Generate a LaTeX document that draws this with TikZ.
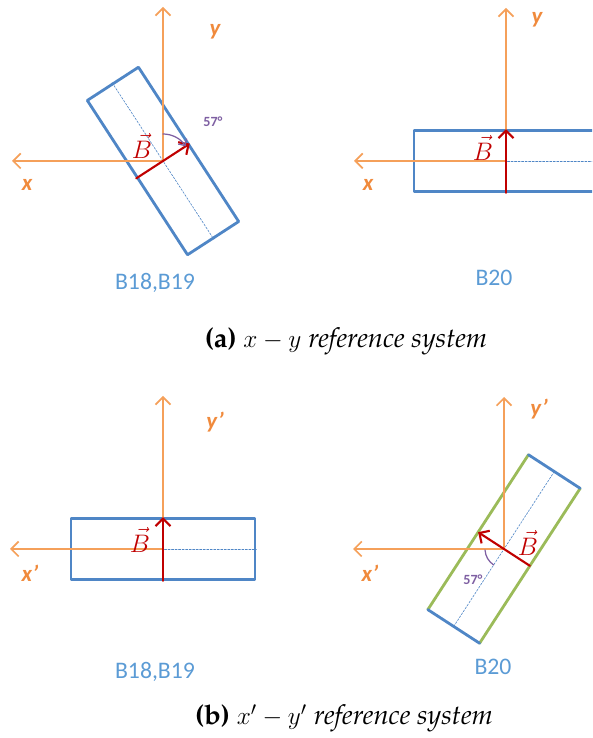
\documentclass[tikz,border=0pt]{standalone}
\usepackage{fontspec}
\newfontfamily\labelfont{Carlito}
\usetikzlibrary{arrows.meta,calc,positioning}
\definecolor{axisorange}{HTML}{F5A05A}
\definecolor{labelorange}{HTML}{F08A3C}
\definecolor{barblue}{HTML}{4F86C6}
\definecolor{nameblue}{HTML}{5B9BD5}
\definecolor{fieldred}{HTML}{C00000}
\definecolor{anglepurple}{HTML}{7E5FA2}
\definecolor{sidegreen}{HTML}{9BBB59}

\begin{document}
\begin{tikzpicture}[x=1cm,y=1cm,line cap=round,line join=round,
  >={Straight Barb[length=1.5mm,width=3mm]},
  axis/.style={axisorange,line width=1pt,->},
  axislabel/.style={text=labelorange,font=\labelfont\bfseries\itshape\fontsize{13}{15}\selectfont},
  barshape/.style={minimum width=3.68cm,minimum height=1.22cm,inner sep=0pt},
  bar/.style={barshape,draw=barblue,line width=1.6pt},
  barside/.style={line width=1.6pt},
  midline/.style={barblue,dash pattern=on 1.2pt off 0.8pt,line width=0.35pt},
  field/.style={fieldred,line width=1.2pt,->},
  fieldlabel/.style={text=fieldred,font=\fontsize{13.5}{15}\selectfont},
  anglearc/.style={anglepurple,line width=0.7pt},
  anglelabel/.style={text=anglepurple,font=\labelfont\bfseries\fontsize{8}{10}\selectfont},
  barname/.style={text=nameblue,font=\labelfont\fontsize{13.5}{16}\selectfont},
  caption/.style={font=\fontsize{15.5}{18}\fontencoding{OT1}\fontfamily{ppl}\selectfont}]

  % Page frame, the B20 bar of panel (a) runs off the right edge.
  \path[use as bounding box,clip] (0,0) rectangle (11.84,14.76);

  % (a) left: B18,B19 turned by 57 degrees.
  \coordinate (oA) at (3.26,11.54);
  \coordinate (xA) at (0.24,11.54);
  \coordinate (yA) at (3.26,14.62);
  \node[bar,rotate=-57] (barA) at (oA) {};
  \draw[midline] (barA.west) -- (barA.east);
  \draw[axis] (oA) -- (xA);
  \draw[axis] (oA) -- (yA);
  \draw[field] (barA.south) -- (barA.north);
  \draw[anglearc,-{Straight Barb[length=1mm,width=2mm]}]
    ([shift={(90:0.54)}]oA) arc[start angle=90,end angle=33,radius=0.54];
  \node[axislabel] (xlabA) at (0.54,11.06) {x};
  \node[axislabel] (ylabA) at (4.30,14.12) {y};
  \node[anglelabel] (angA) at (4.26,12.32) {57°};
  \node[fieldlabel] (fieldA) at (2.84,11.84) {$\vec{B}$};
  \node[barname] (nameA) at (3.10,9.10) {B18,B19};

  % (a) right: B20 lies along the x axis.
  \coordinate (oB) at (10.12,11.54);
  \coordinate (xB) at (7.08,11.54);
  \coordinate (yB) at (10.12,14.60);
  \node[bar] (barB) at (oB) {};
  \draw[midline] (barB.west) -- (barB.east);
  \draw[axis] (oB) -- (xB);
  \draw[axis] (oB) -- (yB);
  \draw[field] (barB.south) -- (barB.north);
  \node[axislabel] (xlabB) at (7.36,11.06) {x};
  \node[axislabel] (ylabB) at (10.74,14.36) {y};
  \node[fieldlabel] (fieldB) at (9.66,11.80) {$\vec{B}$};
  \node[barname] (nameB) at (9.88,9.20) {B20};

  \node[caption] (capA) at (6.92,7.94)
    {{\bfseries (a)} $x-y$ \itshape reference system};

  % (b) left: B18,B19 along the x' axis.
  \coordinate (oC) at (3.26,3.78);
  \coordinate (xC) at (0.20,3.78);
  \coordinate (yC) at (3.26,6.84);
  \node[bar] (barC) at (oC) {};
  \draw[midline] (barC.west) -- (barC.east);
  \draw[axis] (oC) -- (xC);
  \draw[axis] (oC) -- (yC);
  \draw[field] (barC.south) -- (barC.north);
  \node[axislabel] (xlabC) at (0.60,3.30) {x’};
  \node[axislabel] (ylabC) at (4.30,6.32) {y’};
  \node[fieldlabel] (fieldC) at (2.80,3.96) {$\vec{B}$};
  \node[barname] (nameC) at (3.10,1.32) {B18,B19};

  % (b) right: B20 turned the other way, long sides green.
  \coordinate (oD) at (10.08,3.78);
  \coordinate (xD) at (7.06,3.78);
  \coordinate (yD) at (10.08,6.82);
  \node[barshape,rotate=57] (barD) at (oD) {};
  \draw[barside,sidegreen] (barD.north west) -- (barD.north east);
  \draw[barside,sidegreen] (barD.south west) -- (barD.south east);
  \draw[barside,barblue] (barD.north west) -- (barD.south west);
  \draw[barside,barblue] (barD.north east) -- (barD.south east);
  \draw[midline] (barD.west) -- (barD.east);
  \draw[axis] (oD) -- (xD);
  \draw[axis] (oD) -- (yD);
  \draw[field] (barD.south) -- (barD.north);
  \draw[anglearc] ([shift={(183:0.38)}]oD) arc[start angle=183,end angle=237,radius=0.38];
  \node[axislabel] (xlabD) at (7.40,3.30) {x’};
  \node[axislabel] (ylabD) at (10.78,6.58) {y’};
  \node[anglelabel] (angD) at (9.46,3.16) {57°};
  \node[fieldlabel] (fieldD) at (10.56,3.90) {$\vec{B}$};
  \node[barname] (nameD) at (9.86,1.42) {B20};

  \node[caption] (capB) at (6.88,0.40)
    {{\bfseries (b)} $x'-y'$ \itshape reference system};
\end{tikzpicture}
\end{document}
